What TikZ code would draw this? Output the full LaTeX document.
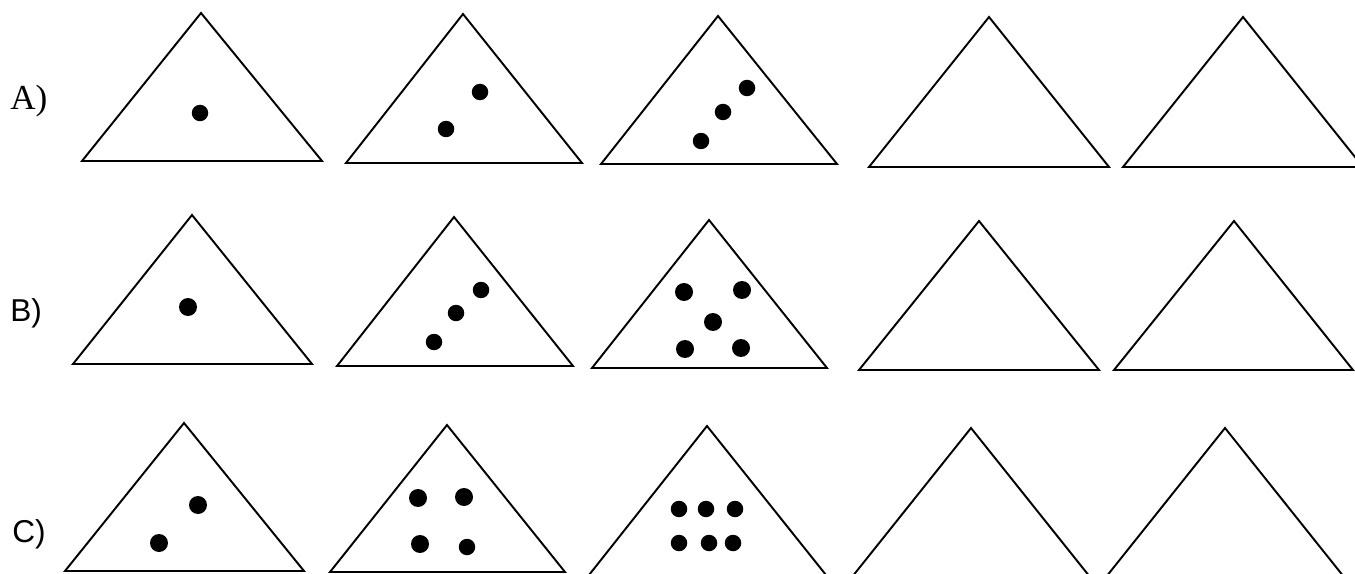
\documentclass[tikz,border=0pt]{standalone}
\usepackage{fontspec}
\setmainfont{Liberation Serif}
\newfontfamily\sansface{Liberation Sans}
\usepackage{tikz}
\tikzstyle{tri} = [draw, line width=1.1pt, line join=miter]
\tikzstyle{pip} = [fill, shape=circle, minimum size=0.33cm, inner sep=0pt]
\tikzstyle{bigpip} = [pip, minimum size=0.36cm]
\tikzstyle{lbl} = [anchor=west, inner sep=0pt, font=\fontsize{20}{20}\selectfont]
\tikzstyle{slbl} = [lbl, font=\sansface\fontsize{18}{18}\selectfont]

\begin{document}
\begin{tikzpicture}[x=0.02cm, y=-0.02cm]
        \useasboundingbox (0,0) rectangle (1355,574);
        \clip (0,0) rectangle (1355,574);
        % row A
        \node[lbl] (la) at (10,101) {A)};
        \draw[tri] (82,161) -- (201,13) -- (322,161) -- cycle;
        \draw[tri] (346,163) -- (463,14) -- (582,163) -- cycle;
        \draw[tri] (601,164) -- (718,16) -- (837,164) -- cycle;
        \draw[tri] (869,167) -- (989,17) -- (1109,167) -- cycle;
        \draw[tri] (1123,167) -- (1243,17) -- (1363,167) -- cycle;
        \node[pip] (a11) at (200,113) {};
        \node[pip] (a21) at (480,92) {};
        \node[pip] (a22) at (446,129) {};
        \node[pip] (a31) at (747,88) {};
        \node[pip] (a32) at (723,112) {};
        \node[pip] (a33) at (701,141) {};
        % row B
        \node[slbl] (lb) at (10,313) {B)};
        \draw[tri] (73,364) -- (192,215) -- (312,364) -- cycle;
        \draw[tri] (337,366) -- (454,217) -- (573,366) -- cycle;
        \draw[tri] (592,368) -- (709,220) -- (827,368) -- cycle;
        \draw[tri] (859,370) -- (979,221) -- (1099,370) -- cycle;
        \draw[tri] (1114,370) -- (1234,221) -- (1353,370) -- cycle;
        \node[bigpip] (b11) at (188,307) {};
        \node[pip] (b21) at (481,290) {};
        \node[pip] (b22) at (456,313) {};
        \node[pip] (b23) at (434,342) {};
        \node[bigpip] (b31) at (684,292) {};
        \node[bigpip] (b32) at (742,290) {};
        \node[bigpip] (b33) at (713,322) {};
        \node[bigpip] (b34) at (685,349) {};
        \node[bigpip] (b35) at (741,348) {};
        % row C
        \node[slbl] (lc) at (12,534) {C)};
        \draw[tri] (65,571) -- (184,423) -- (304,571) -- cycle;
        \draw[tri] (330,572) -- (447,425) -- (565,572) -- cycle;
        \draw[tri] (589,575) -- (707,426) -- (826,575) -- cycle;
        \draw[tri] (852,577) -- (971,428) -- (1090,577) -- cycle;
        \draw[tri] (1106,577) -- (1225,428) -- (1344,577) -- cycle;
        \node[bigpip] (c11) at (198,505) {};
        \node[bigpip] (c12) at (159,543) {};
        \node[bigpip] (c21) at (418,498) {};
        \node[bigpip] (c22) at (464,497) {};
        \node[bigpip] (c23) at (420,544) {};
        \node[pip] (c24) at (467,547) {};
        \node[pip] (c31) at (679,509) {};
        \node[pip] (c32) at (706,509) {};
        \node[pip] (c33) at (735,509) {};
        \node[pip] (c34) at (679,543) {};
        \node[pip] (c35) at (709,543) {};
        \node[pip] (c36) at (733,543) {};
      \end{tikzpicture}
\end{document}
